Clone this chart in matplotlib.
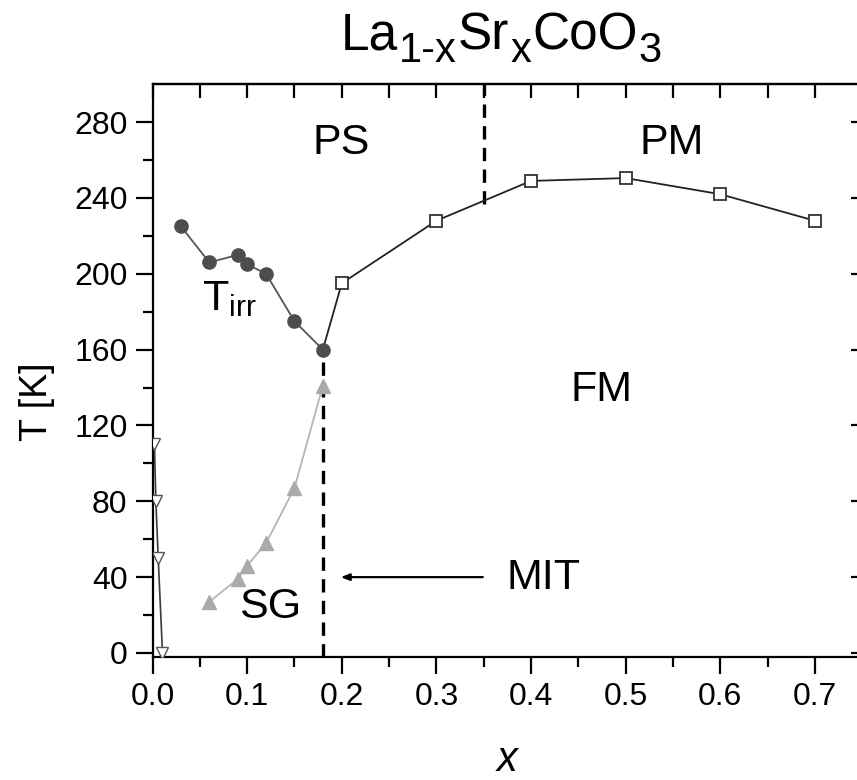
import matplotlib
matplotlib.use('Agg')
import matplotlib.pyplot as plt
import matplotlib.transforms as mtransforms
import numpy as np

plt.rcParams.update({
    'font.family': 'Liberation Sans',
    'mathtext.default': 'regular',
    'axes.linewidth': 1.6,
})

# T_irr (filled dark circles)
x_irr = [0.03, 0.06, 0.09, 0.10, 0.12, 0.15, 0.18]
t_irr = [225, 206, 210, 205, 200, 175, 160]

# Tc of FM phase (open squares); line starts at the T_irr minimum
x_tc = [0.20, 0.30, 0.40, 0.50, 0.60, 0.70]
t_tc = [195, 228, 249, 250.5, 242, 228]

# spin glass (grey triangles)
x_sg = [0.06, 0.09, 0.10, 0.12, 0.15, 0.18]
t_sg = [27, 39, 46, 58, 87, 141]

# low-x open triangles
x_lo = [0.002, 0.0035, 0.006, 0.0105]
t_lo = [110, 80, 50, 0]

# title pieces: (text, is_subscript)
title_parts = [('La', False), ('1-x', True), ('Sr', False), ('x', True),
               ('CoO', False), ('3', True)]


def draw_title(fig):
    # place pieces one after another in pixel coords, subscripts lowered
    renderer = fig.canvas.get_renderer()
    ident = mtransforms.IdentityTransform()
    x = 341.0
    base = 780 - 50
    for s, sub in title_parts:
        fs = 30 if sub else 37
        y = base - 12 if sub else base
        t = fig.text(x, y, s, fontsize=fs, transform=ident, ha='left', va='baseline')
        x += t.get_window_extent(renderer).width + 1


def main():
    fig = plt.figure(figsize=(8.57, 7.8), dpi=100)
    ax = fig.add_axes([0.178, 0.158, 0.828, 0.734])

    # lines + markers
    ax.plot(x_lo, t_lo, color='#3a3a3a', lw=1.2, marker='v', ms=9,
            mfc='white', mec='#555555', mew=1.0, zorder=4)
    ax.plot(x_sg, t_sg, color='#b5b5b5', lw=1.3, marker='^', ms=10,
            mfc='#aaaaaa', mec='#aaaaaa', zorder=4)
    ax.plot(x_irr, t_irr, color='#555555', lw=1.3, marker='o', ms=9.5,
            mfc='#4d4d4d', mec='#4d4d4d', zorder=5)
    ax.plot([x_irr[-1]] + x_tc, [t_irr[-1]] + t_tc, color='#222222', lw=1.3, zorder=3)
    ax.plot(x_tc, t_tc, ls='none', marker='s', ms=8, mfc='white',
            mec='#333333', mew=1.3, zorder=6)

    # phase boundaries
    ax.plot([0.18, 0.18], [-2, 160], color='black', lw=2.4, ls=(0, (4, 2.5)), zorder=2)
    ax.plot([0.35, 0.35], [237, 300], color='black', lw=2.4, ls=(0, (4, 2.5)), zorder=2)

    # labels of regions
    fs = 31
    ax.text(0.199, 269, 'PS', fontsize=fs, ha='center', va='center')
    ax.text(0.549, 269, 'PM', fontsize=fs, ha='center', va='center')
    ax.text(0.474, 138.5, 'FM', fontsize=fs, ha='center', va='center')
    ax.text(0.124, 24.3, 'SG', fontsize=fs, ha='center', va='center')
    ax.text(0.0518, 181, r'T$_{irr}$', fontsize=fs, ha='left', va='baseline')
    ax.text(0.374, 39.4, 'MIT', fontsize=fs, ha='left', va='center')
    ax.annotate('', xy=(0.196, 40), xytext=(0.352, 40),
                arrowprops=dict(arrowstyle='-|>,head_length=0.5,head_width=0.2',
                                color='black', lw=1.6))

    # axes
    ax.set_xlim(0, 0.75)
    ax.set_ylim(-2, 300)
    ax.set_xticks(np.arange(0, 0.71, 0.1))
    ax.set_xticks(np.arange(0.05, 0.75, 0.1), minor=True)
    ax.set_xticklabels(['0.0', '0.1', '0.2', '0.3', '0.4', '0.5', '0.6', '0.7'])
    ax.set_yticks(range(0, 281, 40))
    ax.set_yticks(range(20, 300, 40), minor=True)
    ax.tick_params(which='major', direction='out', length=12, width=1.6,
                   labelsize=23, pad=6)
    ax.tick_params(which='minor', direction='out', length=7, width=1.6)

    ax.set_ylabel('T [K]', fontsize=27)
    ax.yaxis.set_label_coords(-0.138, 0.446)
    fig.text(507 / 857, 1 - 760 / 780, 'x', fontsize=30, style='italic',
             ha='center', va='center')

    top = ax.secondary_xaxis('top')
    top.set_xticks(np.arange(0, 0.751, 0.05))
    top.tick_params(direction='in', length=10, width=1.6, labeltop=False)
    right = ax.secondary_yaxis('right')
    right.set_yticks(range(0, 281, 40))
    right.set_yticks(range(20, 300, 40), minor=True)
    right.tick_params(which='major', direction='in', length=8, width=1.6, labelright=False)
    right.tick_params(which='minor', direction='in', length=3, width=1.6)

    draw_title(fig)

    fig.savefig('out.png', dpi=100)
    plt.close(fig)


if __name__ == '__main__':
    main()
